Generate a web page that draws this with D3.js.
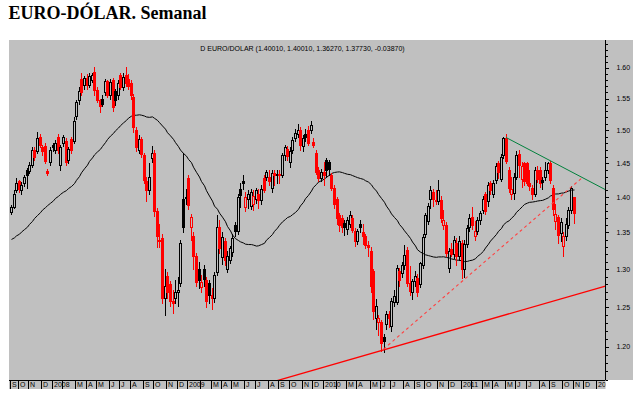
<!DOCTYPE html>
<html><head><meta charset="utf-8">
<script src="https://cdn.jsdelivr.net/npm/d3@7"></script>
<style>body{margin:0;background:#fff}svg{display:block}</style>
</head><body><svg id="c" width="639" height="402"></svg>
<script>
// ---- data (weekly EURO/DOLAR bars, first bar = week ending 2007-09-14) ----
const firstWeek = "2007-09-14";
const opens = [
1.379,1.386,1.411,1.423,1.410,1.420,1.440,1.438,1.448,1.470,
1.468,1.490,1.475,1.476,1.438,1.452,1.477,1.470,1.490,1.447,
1.480,1.484,1.455,1.486,1.484,1.523,1.547,1.582,1.572,1.583,
1.571,1.580,1.593,1.564,1.547,1.550,1.560,1.578,1.555,1.580,
1.562,1.556,1.588,1.568,1.588,1.582,1.575,1.553,1.500,1.470,
1.486,1.462,1.424,1.410,1.458,1.466,1.380,1.338,1.343,1.262,
1.291,1.280,1.258,1.262,1.270,1.282,1.397,1.401,1.428,1.358,
1.345,1.318,1.300,1.276,1.300,1.285,1.282,1.266,1.262,1.296,
1.358,1.316,1.338,1.300,1.312,1.323,1.360,1.352,1.412,1.424,
1.386,1.398,1.388,1.390,1.397,1.404,1.396,1.428,1.430,1.430,
1.413,1.436,1.432,1.434,1.433,1.462,1.472,1.452,1.470,1.488,
1.494,1.500,1.476,1.495,1.500,1.500,1.482,1.465,1.440,1.428,
1.437,1.455,1.452,1.432,1.414,1.398,1.374,1.370,1.363,1.355,
1.362,1.370,1.352,1.338,1.362,1.350,1.345,1.333,1.325,1.298,
1.236,1.231,1.231,1.212,1.229,1.241,1.226,1.257,1.257,1.298,
1.295,1.305,1.326,1.282,1.270,1.284,1.288,1.280,1.306,1.348,
1.366,1.397,1.408,1.395,1.394,1.396,1.360,1.360,1.302,1.327,
1.320,1.335,1.318,1.335,1.300,1.334,1.358,1.372,1.345,1.352,
1.368,1.382,1.404,1.395,1.420,1.404,1.425,1.450,1.427,1.462,
1.488,1.440,1.405,1.406,1.430,1.464,1.426,1.450,1.450,1.421,
1.414,1.405,1.440,1.440,1.425,1.430,1.440,1.450,1.413,1.366,
1.372,1.349,1.332,1.345,1.360,1.382,1.4001];
const highs = [
1.389,1.410,1.428,1.425,1.422,1.432,1.443,1.452,1.475,1.474,
1.497,1.494,1.478,1.480,1.441,1.474,1.481,1.485,1.494,1.478,
1.492,1.488,1.475,1.490,1.520,1.548,1.568,1.591,1.586,1.590,
1.592,1.591,1.602,1.568,1.550,1.556,1.581,1.580,1.582,1.583,
1.566,1.580,1.592,1.592,1.602,1.590,1.580,1.558,1.505,1.492,
1.490,1.466,1.430,1.450,1.476,1.470,1.385,1.362,1.348,1.300,
1.296,1.284,1.272,1.285,1.290,1.340,1.465,1.412,1.432,1.376,
1.350,1.322,1.310,1.292,1.305,1.290,1.286,1.275,1.296,1.374,
1.368,1.350,1.342,1.325,1.332,1.348,1.365,1.404,1.420,1.432,
1.408,1.410,1.412,1.410,1.414,1.412,1.418,1.432,1.440,1.440,
1.440,1.440,1.440,1.440,1.466,1.478,1.476,1.474,1.490,1.502,
1.510,1.505,1.492,1.502,1.506,1.514,1.488,1.470,1.445,1.442,
1.452,1.458,1.455,1.436,1.418,1.400,1.378,1.374,1.368,1.372,
1.380,1.375,1.356,1.355,1.368,1.362,1.348,1.338,1.330,1.300,
1.260,1.240,1.234,1.216,1.245,1.245,1.262,1.272,1.305,1.301,
1.310,1.333,1.330,1.304,1.287,1.297,1.294,1.310,1.348,1.378,
1.392,1.416,1.412,1.410,1.425,1.402,1.382,1.364,1.328,1.336,
1.345,1.342,1.345,1.340,1.340,1.360,1.376,1.386,1.366,1.372,
1.380,1.402,1.408,1.422,1.424,1.425,1.450,1.453,1.464,1.490,
1.494,1.444,1.430,1.436,1.468,1.470,1.452,1.452,1.452,1.440,
1.418,1.444,1.446,1.445,1.430,1.452,1.452,1.454,1.418,1.390,
1.374,1.370,1.350,1.370,1.386,1.416,1.4001];
const lows = [
1.376,1.384,1.408,1.407,1.405,1.416,1.414,1.435,1.445,1.455,
1.466,1.474,1.462,1.450,1.432,1.448,1.468,1.465,1.465,1.440,
1.476,1.448,1.450,1.466,1.480,1.518,1.542,1.555,1.565,1.566,
1.568,1.577,1.556,1.544,1.528,1.538,1.555,1.552,1.550,1.530,
1.540,1.550,1.565,1.564,1.570,1.565,1.550,1.498,1.468,1.466,
1.460,1.420,1.395,1.405,1.452,1.373,1.330,1.330,1.255,1.240,
1.262,1.252,1.243,1.255,1.252,1.278,1.350,1.390,1.383,1.340,
1.300,1.277,1.275,1.270,1.278,1.250,1.255,1.247,1.256,1.292,
1.322,1.307,1.306,1.296,1.308,1.318,1.345,1.348,1.386,1.412,
1.380,1.385,1.383,1.382,1.392,1.385,1.390,1.408,1.425,1.418,
1.408,1.418,1.420,1.420,1.430,1.455,1.455,1.445,1.466,1.484,
1.490,1.470,1.468,1.484,1.478,1.496,1.474,1.434,1.424,1.424,
1.418,1.430,1.432,1.410,1.385,1.362,1.352,1.350,1.346,1.348,
1.358,1.350,1.332,1.334,1.350,1.334,1.328,1.318,1.270,1.235,
1.222,1.215,1.195,1.194,1.222,1.225,1.220,1.252,1.254,1.278,
1.290,1.300,1.278,1.266,1.261,1.278,1.264,1.276,1.302,1.344,
1.362,1.385,1.388,1.390,1.390,1.365,1.355,1.318,1.296,1.318,
1.315,1.305,1.312,1.288,1.290,1.330,1.352,1.355,1.340,1.348,
1.362,1.378,1.376,1.388,1.404,1.400,1.420,1.428,1.424,1.458,
1.450,1.408,1.398,1.398,1.426,1.430,1.415,1.418,1.418,1.410,
1.398,1.402,1.422,1.415,1.412,1.425,1.436,1.420,1.375,1.355,
1.335,1.338,1.318,1.340,1.356,1.378,1.3627];
const closes = [
1.386,1.405,1.421,1.412,1.418,1.430,1.433,1.448,1.470,1.460,
1.488,1.478,1.469,1.454,1.436,1.470,1.474,1.480,1.470,1.475,
1.490,1.452,1.471,1.470,1.515,1.545,1.562,1.561,1.583,1.571,
1.587,1.588,1.564,1.547,1.538,1.542,1.578,1.555,1.577,1.536,
1.547,1.575,1.568,1.585,1.575,1.570,1.556,1.505,1.474,1.486,
1.464,1.425,1.410,1.430,1.466,1.380,1.345,1.340,1.262,1.277,
1.270,1.258,1.255,1.270,1.272,1.336,1.357,1.399,1.389,1.372,
1.318,1.283,1.285,1.283,1.287,1.258,1.266,1.262,1.292,1.357,
1.328,1.344,1.312,1.318,1.328,1.343,1.352,1.400,1.403,1.421,
1.400,1.405,1.408,1.402,1.410,1.396,1.412,1.411,1.437,1.424,
1.436,1.432,1.434,1.432,1.462,1.475,1.461,1.468,1.485,1.496,
1.500,1.478,1.488,1.490,1.481,1.508,1.478,1.437,1.428,1.437,
1.432,1.440,1.442,1.414,1.390,1.370,1.360,1.357,1.358,1.368,
1.374,1.353,1.338,1.352,1.357,1.345,1.333,1.330,1.277,1.245,
1.252,1.236,1.205,1.207,1.241,1.236,1.258,1.265,1.302,1.286,
1.305,1.319,1.282,1.271,1.284,1.291,1.270,1.308,1.344,1.374,
1.388,1.410,1.398,1.396,1.411,1.370,1.368,1.322,1.324,1.321,
1.340,1.318,1.338,1.300,1.334,1.356,1.370,1.360,1.352,1.368,
1.377,1.397,1.380,1.418,1.410,1.420,1.446,1.437,1.460,1.488,
1.453,1.414,1.412,1.430,1.462,1.448,1.446,1.424,1.421,1.417,
1.405,1.440,1.427,1.421,1.4225,1.440,1.450,1.425,1.383,1.376,
1.346,1.364,1.345,1.362,1.382,1.413,1.3773];
// closes of the 39 weeks before the first bar (feed the 40-week average)
const priorCloses = [
1.3130,1.3140,1.3200,1.3000,1.2910,1.2960,1.2950,1.3000,1.3010,1.3140,
1.3180,1.3220,1.3120,1.3270,1.3310,1.3360,1.3390,1.3520,1.3590,1.3650,
1.3580,1.3510,1.3510,1.3450,1.3510,1.3430,1.3380,1.3450,1.3540,1.3620,
1.3790,1.3820,1.3680,1.3790,1.3690,1.3430,1.3680,1.3650,1.3710];
const maPeriod = 40;
const priceLabels = [1.20,1.25,1.30,1.35,1.40,1.45,1.50,1.55,1.60];
const monthInitials = ["E","F","M","A","M","J","J","A","S","O","N","D"];
const trendGreen = [["2011-05-06",1.489],["2012-01-28",1.411]];
const trendRed   = [["2010-06-11",1.196],["2012-01-28",1.2775]];
const trendDash  = [["2010-06-11",1.197],["2011-11-30",1.430]];
const axisEnd = "2012-01-27";
const titleText = "EURO-DÓLAR. Semanal";
const headerText = "D EURO/DOLAR (1.40010, 1.40010, 1.36270, 1.37730, -0.03870)";

// ---- layout ----
const L=9, R=605.5, T=40, B=380, BAND=389, PANEL_R=633;
const svg = d3.select("#c");
const parse = d3.utcParse("%Y-%m-%d");
const start = parse(firstWeek);
const dates = closes.map((_,i)=>d3.utcDay.offset(start, 7*i));
const x = d3.scaleUtc().domain([dates[0], dates[dates.length-1]]).range([11, 573.7]);
const y = d3.scaleLog().domain([1.1595, 1.6464]).range([B, T]);

svg.append("rect").attr("x",L).attr("y",T).attr("width",PANEL_R-L).attr("height",B-T).attr("fill","#c0c0c0");
svg.append("rect").attr("x",L).attr("y",B).attr("width",R-L).attr("height",BAND-B).attr("fill","#c0c0c0");

const defs = svg.append("defs");
defs.append("clipPath").attr("id","plot").append("rect").attr("x",L).attr("y",T).attr("width",R-L).attr("height",B-T);
defs.append("clipPath").attr("id","band").append("rect").attr("x",L).attr("y",B).attr("width",R-L).attr("height",BAND-B+2);

svg.append("text").attr("x",8.5).attr("y",18.5).attr("font-family","'Liberation Serif','Times New Roman',serif")
  .attr("font-weight","bold").attr("font-size",18).attr("fill","#000").text(titleText);
svg.append("text").attr("x",302.5).attr("y",51).attr("text-anchor","middle")
  .attr("font-family","'Liberation Sans',Arial,sans-serif").attr("font-size",7).attr("fill","#000").text(headerText);

const plot = svg.append("g").attr("clip-path","url(#plot)");

// ---- moving average ----
const allCloses = priorCloses.concat(closes);
const ma = closes.map((_,i)=>d3.mean(allCloses.slice(i+priorCloses.length-maPeriod+1, i+priorCloses.length+1)));
plot.append("path").datum(ma.map((v,i)=>[dates[i],v]))
  .attr("fill","none").attr("stroke","#000").attr("stroke-width",1)
  .attr("d", d3.line().x(d=>Math.round(x(d[0]))+0.5).y(d=>y(d[1])));

// ---- candles ----
const bars = closes.map((c,i)=>({d:dates[i],o:opens[i],h:highs[i],l:lows[i],c,
  prev: i>0 ? closes[i-1] : priorCloses[priorCloses.length-1]}));
const cg = plot.append("g").attr("shape-rendering","crispEdges");
bars.forEach(b=>{
  const cx = Math.round(x(b.d));
  const col = b.c < b.prev ? "#ff0000" : "#000000";
  const yh = Math.round(y(b.h)), yl = Math.round(y(b.l));
  const top = Math.round(Math.min(y(b.o),y(b.c))), bot = Math.round(Math.max(y(b.o),y(b.c)));
  const filled = b.c < b.o;
  if (filled) {
    cg.append("rect").attr("x",cx).attr("y",yh).attr("width",1).attr("height",Math.max(1,yl-yh+1)).attr("fill",col);
    cg.append("rect").attr("x",cx-1).attr("y",top).attr("width",3).attr("height",Math.max(1,bot-top+1)).attr("fill",col);
  } else {
    if (top>yh) cg.append("rect").attr("x",cx).attr("y",yh).attr("width",1).attr("height",top-yh).attr("fill",col);
    if (yl>bot) cg.append("rect").attr("x",cx).attr("y",bot+1).attr("width",1).attr("height",yl-bot).attr("fill",col);
    const h = Math.max(1,bot-top);
    cg.append("rect").attr("x",cx-0.5).attr("y",top+0.5).attr("width",2).attr("height",h)
      .attr("fill","none").attr("stroke",col).attr("stroke-width",1);
  }
});

// ---- trend lines ----
function pts(tl){ return tl.map(p=>[x(parse(p[0])), y(p[1])]); }
const g1 = pts(trendGreen);
plot.append("line").attr("x1",g1[0][0]).attr("y1",g1[0][1]).attr("x2",g1[1][0]).attr("y2",g1[1][1])
  .attr("stroke","#00803c").attr("stroke-width",1);
const r1 = pts(trendRed);
const slope = (r1[1][1]-r1[0][1])/(r1[1][0]-r1[0][0]);
plot.append("line").attr("x1",L-40).attr("y1",r1[0][1]+slope*(L-40-r1[0][0]))
  .attr("x2",r1[1][0]).attr("y2",r1[1][1]).attr("stroke","#ff0000").attr("stroke-width",1.3);
const d1 = pts(trendDash);
plot.append("line").attr("x1",d1[0][0]).attr("y1",d1[0][1]).attr("x2",d1[1][0]).attr("y2",d1[1][1])
  .attr("stroke","#ff4040").attr("stroke-width",1.1).attr("stroke-dasharray","3,3");

// ---- y axis ----
svg.append("line").attr("x1",R).attr("x2",R).attr("y1",T).attr("y2",B).attr("stroke","#000").attr("shape-rendering","crispEdges");
const minorTicks = d3.range(116,165).map(k=>k/100);
const yMinor = d3.axisRight(y).tickValues(minorTicks).tickSize(2).tickFormat("");
const ga = svg.append("g").attr("transform",`translate(${R},0)`).call(yMinor);
ga.select(".domain").remove();
ga.selectAll("line").attr("shape-rendering","crispEdges");
const yMajor = d3.axisRight(y).tickValues(priceLabels).tickSize(3).tickPadding(8).tickFormat(d3.format(".2f"));
const gb = svg.append("g").attr("transform",`translate(${R},0)`).call(yMajor);
gb.select(".domain").remove();
gb.selectAll("line").attr("shape-rendering","crispEdges");
gb.selectAll("text").attr("font-family","'Liberation Sans',Arial,sans-serif").attr("font-size",7).attr("fill","#000");

// ---- x axis (month marks at first weekly bar of each month) ----
svg.append("line").attr("x1",L).attr("x2",R).attr("y1",B+0.5).attr("y2",B+0.5).attr("stroke","#000");
const weeks = d3.utcDay.range(start, d3.utcDay.offset(parse(axisEnd),1), 7);
const monthStarts = weeks.filter((d,i)=> i===0 || d.getUTCMonth()!==weeks[i-1].getUTCMonth());
const xa = svg.append("g").attr("clip-path","url(#band)");
monthStarts.forEach(d=>{
  const tx = Math.round(x(d))-1;
  const m = d.getUTCMonth();
  const lab = m===0 ? String(d.getUTCFullYear()) : (m===1 ? "" : monthInitials[m]);
  if (lab) xa.append("text").attr("x",tx+2).attr("y",387).attr("font-family","'Liberation Sans',Arial,sans-serif")
    .attr("font-size",7).attr("fill","#000").text(lab);
});
monthStarts.forEach(d=>{
  const tx = Math.round(x(d))-1;
  xa.append("line").attr("x1",tx+0.5).attr("x2",tx+0.5).attr("y1",B).attr("y2",BAND).attr("stroke","#000");
});
</script></body></html>
